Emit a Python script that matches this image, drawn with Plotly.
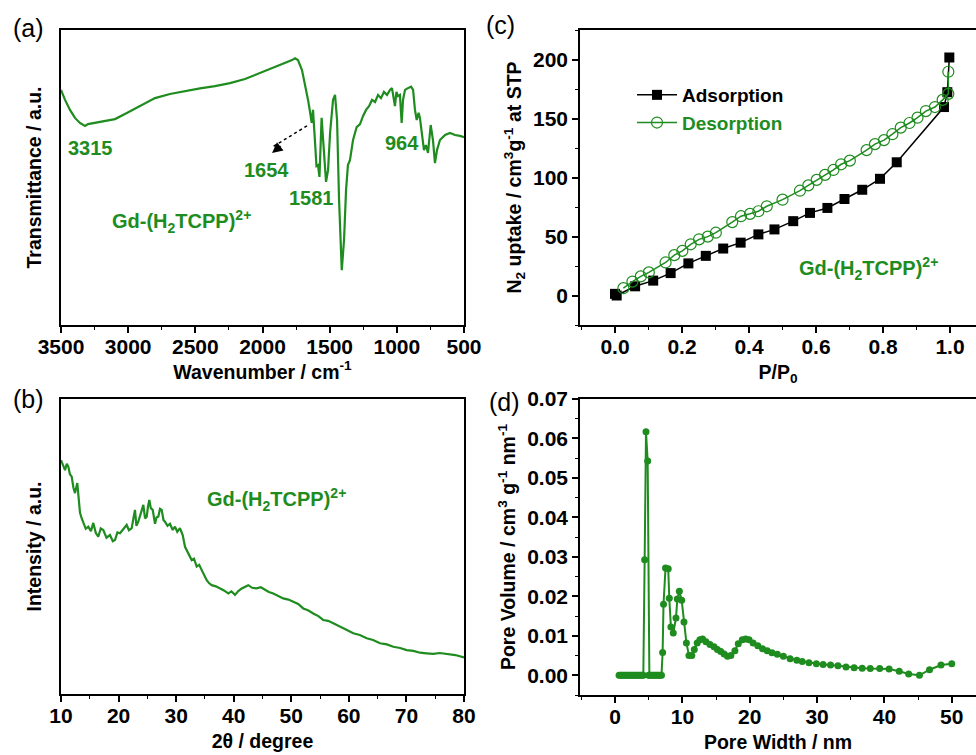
import plotly.graph_objects as go

GREEN = "#1E8C1E"
FONT = "Liberation Sans, Arial, sans-serif"

# (a) FTIR
ir_wn = [3500, 3470, 3433, 3396, 3359, 3321, 3299, 3247, 3172, 3098, 3024, 2912, 2800, 2689,
         2577, 2465, 2354, 2242, 2130, 2019, 1907, 1832, 1780, 1758, 1736, 1706, 1684, 1661,
         1646, 1634, 1624, 1613, 1598, 1587, 1576, 1560, 1546, 1527, 1512, 1497, 1475, 1460,
         1445, 1430, 1410, 1393, 1378, 1364, 1349, 1326, 1299, 1274, 1252, 1229, 1207, 1185,
         1162, 1140, 1118, 1096, 1073, 1051, 1036, 1025, 1014, 1003, 992, 977, 964, 954, 939,
         917, 894, 879, 865, 852, 838, 828, 813, 798, 783, 768, 748, 731, 716, 701, 679, 641,
         604, 567, 530, 500]
ir_t = [79.7, 76.3, 72.9, 70.2, 68.5, 67.5, 68.1, 68.5, 69.2, 69.8, 71.5, 74.2, 76.9, 78.3,
        79.3, 80.2, 81.0, 82.0, 83.4, 85.4, 87.5, 88.8, 89.8, 90.4, 89.8, 86.4, 82.0, 76.3,
        72.2, 68.5, 72.9, 62.7, 53.9, 54.2, 50.2, 70.2, 59.3, 48.5, 52.5, 65.1, 76.3, 78.0,
        69.5, 42.4, 18.6, 28.8, 45.8, 54.2, 55.9, 62.7, 67.1, 68.1, 70.8, 72.9, 74.2, 76.3,
        75.6, 78.0, 76.9, 79.0, 78.0, 79.7, 80.3, 76.3, 74.2, 79.0, 77.6, 78.0, 68.5, 76.3, 79.7,
        80.3, 80.8, 79.7, 72.9, 69.5, 71.9, 70.2, 64.4, 59.3, 61.0, 58.3, 67.8, 62.7, 54.9, 59.3,
        62.7, 64.4, 65.1, 64.4, 64.1, 63.7]

# (b) XRD
xrd_2t = [10.0, 10.4, 10.7, 11.0, 11.27, 11.55, 11.86, 12.15, 12.43, 12.83, 13.05, 13.30, 13.6,
          13.87, 14.3, 14.74, 15.2, 15.61, 16.05, 16.48, 16.9, 17.35, 17.9, 18.51, 19.0, 19.38,
          19.8, 20.25, 20.8, 21.41, 21.8, 22.28, 22.6, 22.85, 23.1, 23.43, 23.9, 24.30, 24.6,
          24.89, 25.1, 25.34, 25.6, 25.93, 26.33, 26.6, 26.90, 27.2, 27.49, 27.8, 28.06, 28.5,
          28.93, 29.4, 29.80, 30.2, 30.66, 31.14, 31.54, 32.11, 32.4, 32.70, 33.1, 33.57, 34.0,
          34.44, 34.9, 35.31, 35.7, 36.18, 36.9, 37.62, 38.3, 39.06, 39.6, 40.22, 40.8, 41.39,
          41.9, 42.53, 43.2, 43.99, 44.7, 45.43, 46.1, 46.88, 47.7, 48.61, 49.5, 50.35, 51.2,
          52.08, 52.9, 53.82, 54.7, 55.55, 56.4, 57.30, 58.2, 59.03, 59.9, 60.77, 61.9, 63.10,
          64.2, 65.41, 66.6, 67.72, 68.9, 70.05, 71.2, 72.36, 73.5, 74.67, 75.8, 77.0, 78.5,
          80.0]
xrd_i = [79.3, 77.0, 75.9, 78.0, 77.1, 74.5, 73.7, 70.0, 68.1, 71.5, 66.0, 61.4, 59.5,
         58.0, 56.0, 56.7, 55.2, 58.0, 54.6, 53.3, 56.1, 55.6, 53.0, 53.9, 51.8, 52.2,
         54.8, 54.5, 55.9, 57.3, 55.5, 56.2, 59.8, 62.4, 57.0, 58.4, 61.5, 64.1, 59.5,
         60.1, 63.4, 65.8, 63.0, 62.4, 57.7, 59.9, 60.1, 62.8, 62.4, 59.0, 58.4, 57.0,
         57.7, 55.6, 56.7, 55.0, 56.2, 53.9, 49.9, 47.7, 46.5, 45.4, 45.9, 43.2, 43.8,
         42.0, 40.1, 38.6, 37.6, 36.9, 36.5, 35.8, 35.1, 34.1, 34.8, 33.6, 34.9, 35.8,
         36.4, 36.9, 36.0, 35.8, 36.2, 35.3, 34.6, 34.1, 33.2, 32.4, 32.0, 31.3, 30.5,
         29.0, 28.4, 27.3, 26.4, 25.1, 24.8, 24.0, 23.1, 22.3, 21.6, 20.6, 20.0, 18.9,
         18.3, 17.2, 16.8, 16.0, 15.6, 14.9, 14.6, 14.0, 13.8, 13.6, 13.9, 13.6, 13.2,
         12.4]

# (c) N2 isotherm
ads_p = [0.0, 0.005, 0.06, 0.114, 0.166, 0.219, 0.271, 0.323, 0.375, 0.428, 0.476, 0.532,
         0.582, 0.634, 0.685, 0.738, 0.791, 0.841, 0.982, 0.992, 0.998]
ads_v = [1.4, 0.0, 7.8, 12.6, 19.0, 27.2, 33.6, 39.8, 44.8, 51.8, 56.0, 63.0,
         70.0, 74.2, 81.8, 89.6, 98.9, 112.9, 159.7, 172.3, 201.7]
des_p = [0.995, 0.995, 0.978, 0.955, 0.928, 0.903, 0.879, 0.853, 0.828, 0.803, 0.776, 0.751,
         0.701, 0.675, 0.652, 0.627, 0.602, 0.577, 0.552, 0.5, 0.453, 0.428, 0.403, 0.376,
         0.35, 0.301, 0.277, 0.251, 0.226, 0.201, 0.177, 0.151, 0.101, 0.077, 0.052, 0.025]
des_v = [189.6, 170.9, 165.8, 159.7, 156.3, 150.7, 146.2, 142.3, 136.7, 131.7, 128.3, 123.2,
         114.3, 111.2, 106.4, 102.2, 98.0, 93.3, 88.8, 81.2, 75.6, 71.4, 69.2, 67.2,
         62.2, 53.2, 49.9, 47.6, 43.4, 37.8, 34.2, 28.0, 19.6, 16.2, 11.8, 6.2]

# (d) pore size distribution
pw = [0.6, 0.8, 1.0, 1.2, 1.4, 1.6, 1.8, 2.0, 2.2, 2.4, 2.6, 2.8, 3.0, 3.2, 3.4, 3.6, 3.8,
      4.0, 4.2, 4.4, 4.6, 4.85, 5.0, 5.1, 5.3, 5.5, 5.7, 5.9, 6.1, 6.3, 6.5, 6.7, 6.9,
      7.07, 7.2, 7.5, 7.9, 8.06, 8.3, 8.65, 9.05, 9.25, 9.55, 9.9, 10.24, 10.6, 10.98, 11.4,
      11.77, 12.2, 12.6, 13.0, 13.5, 14.1, 14.7, 15.2, 15.7, 16.2, 16.7, 17.2, 17.8, 18.3,
      18.9, 19.4, 19.9, 20.5, 21.2, 21.9, 22.6, 23.3, 24.1, 25.0, 26.0, 27.0, 27.8, 28.8,
      29.9, 30.9, 32.0, 33.1, 34.3, 35.5, 36.7, 37.9, 39.3, 40.7, 42.2, 43.6, 45.2, 46.7,
      48.4, 50.0]
pv = [0, 0, 0, 0, 0, 0, 0, 0, 0, 0, 0, 0, 0, 0, 0, 0, 0,
      0, 0, 0.0293, 0.0617, 0.0543, 0, 0, 0, 0, 0, 0, 0, 0, 0, 0, 0,
      0.0058, 0.018, 0.0272, 0.027, 0.0195, 0.0122, 0.0107, 0.0145, 0.0193, 0.0213, 0.019,
      0.0135, 0.0082, 0.005, 0.005,
      0.0065, 0.0082, 0.009, 0.0092, 0.0085, 0.0078, 0.0072, 0.0065, 0.006, 0.0054, 0.0048,
      0.005, 0.0062, 0.008,
      0.009, 0.0092, 0.009, 0.0082, 0.0075, 0.0067, 0.0062, 0.0057, 0.0053, 0.0048, 0.0042,
      0.0038, 0.0035, 0.0032,
      0.0029, 0.0027, 0.0026, 0.0024, 0.0021, 0.0019, 0.0018, 0.0017, 0.0017, 0.0016, 0.001,
      0.0003, 0.0, 0.0014,
      0.0026, 0.0029]

W, H = 976, 755


def px_x(p):
    return p / W


def px_y(p):
    return 1 - p / H


fig = go.Figure()
fig.add_trace(go.Scatter(x=ir_wn, y=ir_t, mode="lines", line=dict(color=GREEN, width=2.2),
                         xaxis="x", yaxis="y", showlegend=False))
fig.add_trace(go.Scatter(x=xrd_2t, y=xrd_i, mode="lines", line=dict(color=GREEN, width=2.2),
                         xaxis="x2", yaxis="y2", showlegend=False))
fig.add_trace(go.Scatter(x=ads_p, y=ads_v, mode="lines+markers", name="Adsorption",
                         line=dict(color="black", width=1.5),
                         marker=dict(symbol="square", size=10, color="black"),
                         xaxis="x3", yaxis="y3"))
fig.add_trace(go.Scatter(x=des_p, y=des_v, mode="lines+markers",
                         name="<span style='color:%s'>Desorption</span>" % GREEN,
                         line=dict(color=GREEN, width=1.5),
                         marker=dict(symbol="circle-open", size=11, color=GREEN,
                                     line=dict(width=1.2, color=GREEN)),
                         xaxis="x3", yaxis="y3"))
fig.add_trace(go.Scatter(x=pw, y=pv, mode="lines+markers", line=dict(color=GREEN, width=2),
                         marker=dict(size=7, color=GREEN),
                         xaxis="x4", yaxis="y4", showlegend=False))

tickfont = dict(family=FONT, size=21, color="black", weight="bold")
titlefont = dict(family=FONT, size=19.5, color="black", weight="bold")

def xax(domain, anchor, rng, dtick, minor, title, fmt=None, standoff=8):
    d = dict(domain=domain, anchor=anchor, range=rng, dtick=dtick, tick0=0, automargin=False,
             showline=True, linecolor="black", linewidth=1.5, mirror=True,
             ticks="outside", ticklen=6, tickwidth=1.5, tickcolor="black", ticklabelstandoff=-4,
             minor=dict(dtick=minor, ticks="outside", ticklen=3.5, tickwidth=1.2, tickcolor="black"),
             showgrid=False, zeroline=False, tickfont=tickfont,
             title=dict(text=title, font=titlefont, standoff=standoff))
    if fmt:
        d["tickformat"] = fmt
    return d

def yax(domain, anchor, rng, title, dtick=None, minor=None, fmt=None, labels=True, standoff=8):
    d = dict(domain=domain, anchor=anchor, range=rng, automargin=False,
             showline=True, linecolor="black", linewidth=1.5, mirror=True,
             showgrid=False, zeroline=False, tickfont=tickfont,
             title=dict(text=title, font=titlefont, standoff=standoff))
    if labels:
        d.update(dtick=dtick, tick0=0, ticks="outside", ticklen=6, tickwidth=1.5, tickcolor="black",
                 minor=dict(dtick=minor, ticks="outside", ticklen=3.5, tickwidth=1.2, tickcolor="black"))
        if fmt:
            d["tickformat"] = fmt
    else:
        d.update(showticklabels=False, ticks="")
    return d

dom_xl = [px_x(61), px_x(464)]
dom_xr = [px_x(580), 1.0]
dom_yt = [px_y(325), px_y(30)]
dom_yb = [px_y(694), px_y(399)]
dom_ybd = [px_y(695), px_y(399)]

fig.update_layout(
    width=W, height=H, margin=dict(l=0, r=0, t=0, b=0, autoexpand=False),
    paper_bgcolor="white", plot_bgcolor="white",
    font=dict(family=FONT, color="black"),
    xaxis=xax(dom_xl, "y", [3500, 500], 500, 250, "Wavenumber / cm<sup>-1</sup>"),
    yaxis=yax(dom_yt, "x", [0, 100], "Transmittance / a.u.", labels=False, standoff=12),
    xaxis2=xax(dom_xl, "y2", [10, 80], 10, 5, "2θ / degree"),
    yaxis2=yax(dom_yb, "x2", [0, 100], "Intensity / a.u.", labels=False, standoff=12),
    xaxis3=xax(dom_xr, "y3", [-0.1045, 1.0776], 0.2, 0.1, "P/P<sub>0</sub>", fmt=".1f"),
    yaxis3=yax(dom_yt, "x3", [-25, 225], "N<sub>2</sub> uptake / cm<sup>3</sup>g<sup>-1</sup> at STP",
               dtick=50, minor=25, standoff=6),
    xaxis4=xax(dom_xr, "y4", [-5.2, 53.6], 10, 5, "Pore Width / nm"),
    yaxis4=yax(dom_ybd, "x4", [-0.005, 0.07], "Pore Volume / cm<sup>3</sup> g<sup>-1</sup> nm<sup>-1</sup>",
               dtick=0.01, minor=0.005, fmt=".2f", standoff=6),
    legend=dict(x=px_x(632), y=px_y(76), xanchor="left", yanchor="top",
                font=dict(family=FONT, size=19, color="black", weight="bold"),
                bgcolor="rgba(0,0,0,0)", tracegroupgap=0, itemwidth=40),
)

gfont = dict(family=FONT, size=20, color=GREEN, weight="bold")
ann = []
gd = "Gd-(H<sub>2</sub>TCPP)<sup>2+</sup>"
for txt, x, y, xr, yr in [("3315", 3284, 60, "x", "y"), ("1654", 1967, 52.5, "x", "y"),
                           ("1581", 1632, 43, "x", "y"), ("964", 962, 61.7, "x", "y"),
                           (gd, 2600, 35, "x", "y"), (gd, 47.5, 66, "x2", "y2"),
                           (gd, 0.758, 22.7, "x3", "y3")]:
    ann.append(dict(text=txt, x=x, y=y, xref=xr, yref=yr, showarrow=False, font=gfont,
                    xanchor="center", yanchor="middle"))
# arrow head
ann.append(dict(text="", x=1929, y=58.3, xref="x", yref="y", showarrow=True, ax=10, ay=-8,
                arrowhead=2, arrowsize=1.4, arrowwidth=1.5, arrowcolor="black"))
for lab, xp, yp in [("(a)", 28, 28), ("(b)", 28, 399), ("(c)", 501, 25), ("(d)", 504, 402)]:
    ann.append(dict(text=lab, x=px_x(xp), y=px_y(yp), xref="paper", yref="paper", showarrow=False,
                    xanchor="center", yanchor="middle",
                    font=dict(family=FONT, size=25, color="black")))
fig.update_layout(annotations=ann)
fig.add_shape(type="line", x0=1669, y0=67.5, x1=1920, y1=60.5, xref="x", yref="y",
              line=dict(color="black", width=1.5, dash="dot"))

fig.write_html("out.html")
